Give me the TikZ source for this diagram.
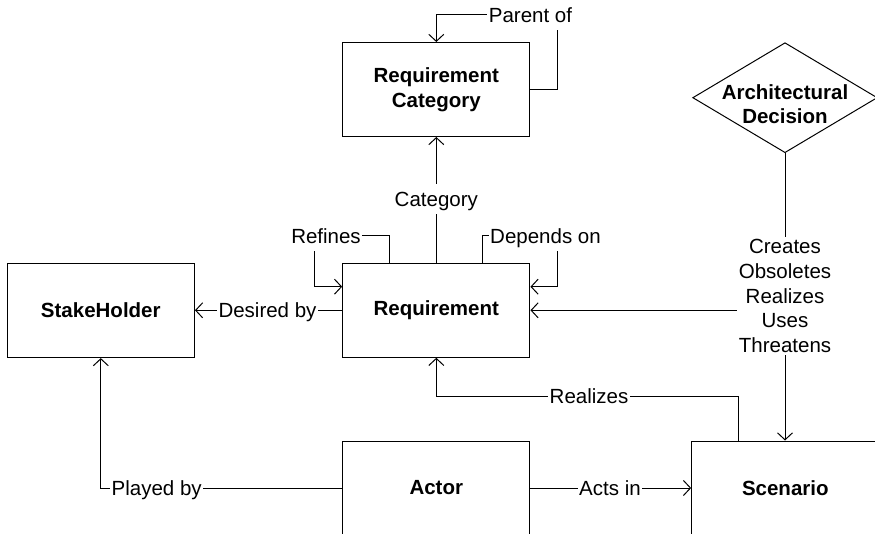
\documentclass[tikz,border=0pt]{standalone}
\usepackage{fontspec}
\setmainfont{Liberation Sans}
\usetikzlibrary{arrows.meta,shapes.geometric}
\begin{document}
\begin{tikzpicture}[x=1pt,y=-1pt,
  txt/.style={font=\fontsize{20.5}{24.6}\selectfont},
  entity/.style={draw, line width=1pt, minimum width=187.3pt, minimum height=94pt,
    inner sep=0pt, align=center, font=\fontsize{20.5}{24.6}\selectfont\bfseries},
  lbl/.style={txt, fill=white, inner xsep=1.5pt, inner ysep=3pt,
    text height=19.3pt, text depth=4.6pt},
  multilbl/.style={txt, fill=white, inner xsep=2pt, inner ysep=3pt, align=center},
  link/.style={line width=1pt},
  conn/.style={link, -{Straight Barb[length=7pt,width=15pt,line width=1pt]}}]

\useasboundingbox (0,0) rectangle (875,534);
\clip (0,0) rectangle (875,534);

% entities
\node[entity] (rc)    at (436.3,89.5)  {Requirement\\Category};
\node[entity] (req)   at (436.3,310.3) {Requirement};
\node[entity] (sh)    at (100.8,310.6) {StakeHolder};
\node[entity] (actor) at (436.3,488)   {Actor};
\node[entity] (scen)  at (785.3,488)   {Scenario};
\node[draw, diamond, line width=1pt, minimum width=184.6pt, minimum height=110pt,
      inner sep=0pt] (ad) at (785,97.7) {};
\node[txt, font=\fontsize{20.5}{24.6}\selectfont\bfseries, align=center] (adname)
      at (785,104) {Architectural\\Decision};

% bend points
\coordinate (parentcorner) at (557.7,14.7);
\coordinate (refcorner)    at (314,236);
\coordinate (depcorner)    at (557.3,236);
\coordinate (adbranch)     at (ad.south |- req.east);

% Parent of (self loop on the category)
\draw[conn] (rc.east) -| (parentcorner) -| (rc.north);
\node[lbl] (lparent) at (530.5,14.7) {Parent of};

% Refines (self loop on the requirement)
\draw[conn] ([xshift=-47.3pt]req.north) |- (refcorner) |- ([yshift=23.6pt]req.west);
\node[lbl] (lrefines) at (326,236) {Refines};

% Depends on (self loop on the requirement)
\draw[conn] ([xshift=46.4pt]req.north) |- (depcorner) |- ([yshift=23.6pt]req.east);
\node[lbl] (ldepends) at (545.5,236) {Depends on};

% Category
\draw[conn] (req.north) -- (rc.south);
\node[lbl] (lcategory) at (436.3,199) {Category};

% Desired by
\draw[conn] (req.west) -- (req.west -| sh.east);
\node[lbl] (ldesired) at (267.5,310.3) {Desired by};

% Architectural decision relations
\draw[link] (ad.south) -- (adbranch);
\draw[conn] (adbranch) -- (req.east);
\draw[conn] (adbranch) -- (ad.south |- scen.north);
\node[multilbl] (ladr) at (785,296) {Creates\\Obsoletes\\Realizes\\Uses\\Threatens};

% Realizes
\draw[conn] ([xshift=-47.3pt]scen.north) |- ([yshift=-38.7pt]req.south) -- (req.south);
\node[lbl] (lrealizes) at (589,396) {Realizes};

% Played by
\draw[conn] (actor.west) -| (sh.south);
\node[lbl] (lplayed) at (156.7,488) {Played by};

% Acts in
\draw[conn] (actor.east) -- (scen.west);
\node[lbl] (lacts) at (610,488) {Acts in};

\end{tikzpicture}
\end{document}
